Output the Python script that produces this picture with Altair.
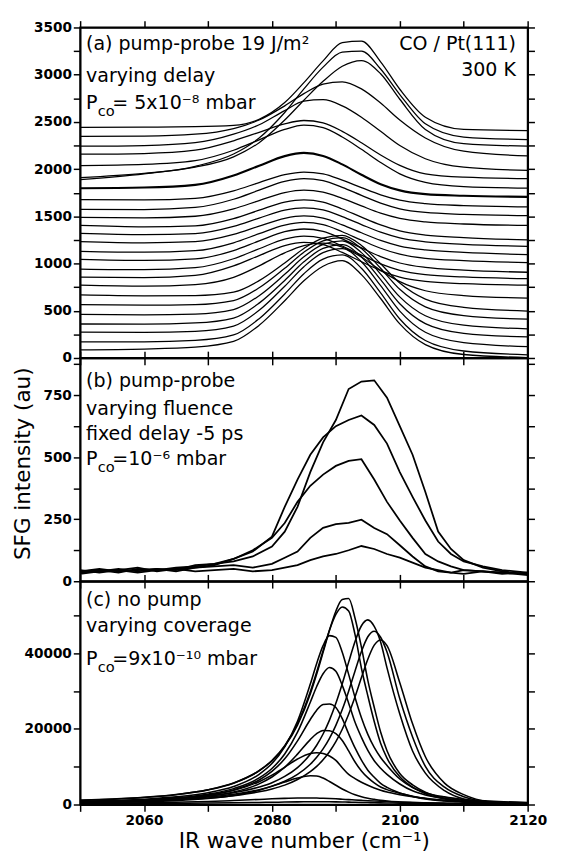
import altair as alt
import pandas as pd

FONT = "DejaVu Sans"

# ---------------- panel (a): pump-probe, varying delay ----------------
A_X = [2050, 2060, 2068, 2074, 2078, 2082, 2085, 2088, 2091, 2094, 2097, 2100, 2104, 2110, 2120]
a00 = [86, 94, 114, 175, 346, 606, 817, 971, 1030, 883, 630, 361, 142, 37, 5]
a01 = [171, 171, 186, 244, 416, 678, 893, 1047, 1091, 950, 689, 413, 185, 74, 34]
a02 = [274, 272, 283, 338, 505, 760, 967, 1116, 1159, 1020, 766, 496, 272, 162, 120]
a03 = [360, 358, 371, 423, 581, 821, 1018, 1160, 1200, 1070, 829, 575, 364, 261, 223]
a04 = [462, 457, 465, 513, 660, 886, 1071, 1203, 1240, 1116, 888, 647, 447, 347, 308]
a05 = [565, 559, 565, 608, 743, 950, 1120, 1241, 1275, 1160, 950, 727, 542, 449, 411]
a06 = [668, 659, 661, 697, 819, 1006, 1160, 1269, 1298, 1192, 998, 794, 624, 536, 497]
a07 = [771, 761, 778, 854, 976, 1114, 1191, 1216, 1175, 1070, 929, 808, 712, 661, 634]
a08 = [856, 852, 875, 975, 1084, 1190, 1224, 1200, 1118, 1019, 926, 857, 811, 787, 771]
a09 = [942, 935, 956, 1051, 1157, 1259, 1291, 1267, 1186, 1090, 997, 929, 883, 858, 840]
a10 = [1045, 1033, 1049, 1138, 1240, 1337, 1366, 1342, 1261, 1166, 1074, 1006, 959, 931, 908]
a11 = [1130, 1120, 1136, 1220, 1316, 1407, 1435, 1412, 1337, 1248, 1162, 1099, 1055, 1031, 1010]
a12 = [1233, 1220, 1232, 1308, 1396, 1479, 1504, 1481, 1410, 1326, 1245, 1185, 1144, 1118, 1095]
a13 = [1319, 1306, 1318, 1394, 1482, 1565, 1590, 1568, 1497, 1413, 1332, 1272, 1230, 1204, 1182]
a14 = [1404, 1389, 1399, 1476, 1565, 1651, 1675, 1651, 1578, 1491, 1409, 1346, 1302, 1275, 1250]
a15 = [1490, 1485, 1501, 1579, 1667, 1751, 1777, 1757, 1691, 1611, 1534, 1479, 1441, 1419, 1404]
a16 = [1575, 1572, 1594, 1681, 1777, 1870, 1899, 1878, 1807, 1722, 1640, 1580, 1541, 1521, 1507]
a17 = [1678, 1674, 1691, 1770, 1858, 1942, 1969, 1950, 1883, 1804, 1728, 1672, 1635, 1614, 1600]
a18 = [1798, 1805, 1833, 1932, 2036, 2138, 2172, 2140, 2050, 1940, 1840, 1775, 1735, 1718, 1706]
a19 = [2038, 2050, 2090, 2200, 2310, 2420, 2465, 2440, 2340, 2210, 2070, 1950, 1860, 1815, 1798]
a20 = [2158, 2165, 2200, 2300, 2390, 2480, 2515, 2490, 2400, 2280, 2150, 2040, 1950, 1915, 1900]
a21 = [2243, 2250, 2280, 2370, 2470, 2620, 2720, 2735, 2670, 2550, 2400, 2250, 2110, 2020, 1986]
a22 = [2346, 2350, 2370, 2430, 2520, 2670, 2800, 2900, 2925, 2850, 2700, 2520, 2330, 2190, 2140]
a23 = [1910, 1955, 2020, 2130, 2280, 2520, 2730, 2930, 3090, 3150, 3010, 2740, 2420, 2270, 2243]
a24 = [1890, 1950, 2030, 2160, 2330, 2600, 2850, 3080, 3240, 3250, 3060, 2790, 2480, 2340, 2312]
a25 = [2442, 2445, 2449, 2463, 2528, 2705, 2916, 3146, 3340, 3355, 3136, 2846, 2550, 2421, 2408]
A_THIN = [a00, a01, a02, a03, a04, a05, a06, a07, a08, a09, a10, a11, a12,
          a13, a14, a15, a16, a17, a19, a20, a21, a22, a23, a24, a25]
A_BOLD = [a18]

# ---------------- panel (b): pump-probe, varying fluence ----------------
B_X = [2050, 2053, 2056, 2059, 2062, 2065, 2068, 2071, 2074, 2077, 2080, 2082, 2084, 2086, 2088,
       2090, 2092, 2094, 2096, 2098, 2100, 2102, 2104, 2106, 2108, 2110, 2113, 2116, 2120]
b1 = [40, 45, 35, 50, 45, 55, 60, 70, 80, 100, 140, 200, 300, 440, 560,
      650, 775, 805, 810, 740, 625, 510, 360, 200, 130, 85, 55, 40, 28]
b2 = [35, 40, 50, 40, 50, 45, 65, 70, 90, 120, 180, 300, 410, 510, 580,
      625, 650, 668, 630, 555, 440, 340, 245, 160, 110, 80, 60, 45, 35]
b3 = [45, 35, 45, 55, 40, 50, 55, 65, 90, 125, 175, 235, 320, 385, 430,
      465, 485, 492, 410, 320, 245, 175, 110, 80, 60, 45, 40, 35, 30]
b4 = [40, 50, 40, 45, 50, 40, 55, 60, 65, 55, 70, 95, 120, 175, 215,
      230, 235, 248, 215, 190, 145, 100, 60, 40, 35, 45, 40, 30, 35]
b5 = [30, 40, 45, 35, 45, 50, 40, 45, 50, 40, 45, 55, 65, 85, 100,
      110, 125, 142, 130, 110, 95, 75, 55, 45, 35, 30, 40, 35, 25]
B_CURVES = [b1, b2, b3, b4, b5]

# ---------------- panel (c): no pump, varying coverage ----------------
C_X = [2050, 2055, 2060, 2065, 2070, 2074, 2078, 2080, 2082, 2084, 2086, 2087, 2088, 2089, 2090,
       2091, 2092, 2093, 2094, 2095, 2096, 2097, 2098, 2100, 2102, 2104, 2107, 2110, 2114, 2120]
c01 = [1120, 1430, 1900, 2650, 3920, 5690, 8920, 11540, 15370, 21000, 29210, 34460, 40200, 46060, 51090,
       54150, 54430, 49230, 41570, 32820, 25710, 19150, 14220, 8200, 5200, 3280, 1640, 770, 330, 110]
c02 = [1090, 1390, 1860, 2600, 3870, 5640, 8930, 11640, 15560, 21400, 29810, 35030, 40660, 46040, 50220,
       52200, 51160, 44890, 36020, 28710, 21920, 16180, 12270, 7310, 4590, 2870, 1460, 680, 310, 100]
c03 = [720, 910, 1180, 1590, 2260, 3130, 4630, 5760, 7420, 9760, 13270, 15670, 18640, 22300, 26740,
       31920, 37630, 43090, 47240, 48800, 47090, 42940, 36110, 23910, 14150, 8300, 3660, 1460, 540, 150]
c04 = [650, 810, 1040, 1400, 1970, 2690, 3920, 4860, 6140, 7970, 10630, 12460, 14700, 17500, 20930,
       25100, 29950, 35310, 40440, 44330, 45800, 44200, 40300, 27940, 17860, 10080, 4580, 2060, 640, 140]
c05 = [590, 740, 940, 1250, 1730, 2350, 3360, 4120, 5130, 6610, 8700, 10090, 11830, 13960, 16620,
       19880, 23840, 28450, 33540, 38410, 42110, 43500, 41980, 32190, 21320, 12620, 5660, 2610, 740, 130]
c06 = [800, 1040, 1410, 2020, 3120, 4760, 7990, 10820, 15220, 22000, 31830, 37270, 41980, 44630, 44180,
       40230, 34390, 28290, 22940, 18540, 15090, 12440, 10330, 6740, 4490, 3140, 2020, 1350, 900, 540]
c07 = [700, 910, 1240, 1770, 2740, 4200, 7020, 9520, 13360, 19110, 27040, 31200, 34570, 36200, 35190,
       31490, 26790, 21720, 17740, 14300, 11580, 9590, 7960, 5430, 3620, 2530, 1630, 1090, 720, 430]
c08 = [630, 825, 1130, 1620, 2520, 3860, 6490, 8760, 12070, 16820, 22480, 24940, 26430, 26570, 25630,
       22700, 18690, 14950, 11750, 9080, 7210, 5610, 4540, 3070, 2140, 1470, 940, 670, 430, 270]
c09 = [550, 715, 970, 1400, 2170, 3290, 5460, 7270, 9850, 13320, 17160, 18720, 19580, 19500, 18720,
       16940, 14180, 11230, 8870, 7090, 5710, 4630, 3940, 2960, 2170, 1580, 1080, 790, 490, 300]
c10 = [610, 810, 1110, 1600, 2480, 3770, 6040, 7750, 9850, 12020, 13500, 13700, 13490, 12810, 11650,
       9730, 7950, 6850, 5890, 5070, 4380, 3770, 3290, 2600, 2060, 1640, 1100, 750, 480, 270]
c11 = [390, 520, 710, 1030, 1600, 2400, 3800, 4800, 5940, 6990, 7580, 7520, 6990, 6080, 5090,
       4100, 3270, 2580, 2050, 1670, 1370, 1100, 910, 680, 530, 420, 300, 230, 150, 90]
c12 = [300, 380, 450, 600, 800, 1050, 1350, 1500, 1620, 1700, 1720, 1700, 1650, 1580, 1500,
       1400, 1300, 1200, 1100, 1000, 920, 850, 780, 650, 550, 450, 350, 280, 200, 120]
c13 = [200, 230, 260, 300, 380, 450, 550, 600, 650, 700, 720, 730, 730, 720, 700,
       670, 630, 590, 550, 510, 470, 440, 410, 360, 320, 280, 230, 190, 150, 100]
C_CURVES = [c01, c02, c03, c04, c05, c06, c07, c08, c09, c10, c11, c12, c13]

X_TICKS = list(range(2050, 2121, 10))


def long_form(xs, curves, prefix):
    rows = []
    for i, ys in enumerate(curves):
        for x, y in zip(xs, ys):
            rows.append({"x": x, "y": y, "curve": f"{prefix}{i:02d}"})
    return pd.DataFrame(rows)


def txt(s, px, py, size=19.5, align="left"):
    return alt.Chart(pd.DataFrame({"t": [s]})).mark_text(
        font=FONT, fontSize=size, align=align, baseline="alphabetic", color="black"
    ).encode(x=alt.value(px), y=alt.value(py), text="t:N")


def panel(df, height, ymax, ystep, lstep, sw, interp, texts, bold_df=None,
          xtitle=None, ytitle=None):
    xs = alt.Scale(domain=[2050, 2120], nice=False, zero=False)
    ys = alt.Scale(domain=[0, ymax], nice=False, zero=False)
    yticks = list(range(0, ymax + 1, ystep))
    xargs = dict(values=X_TICKS, format="d", labelFlush=False, labelOverlap=False,
                 labelExpr="datum.value % 20 === 0 ? datum.label : ''")
    if xtitle:
        xargs.update(title=xtitle, titlePadding=4)
    else:
        xargs.update(labels=False, title=None)
    yargs = dict(values=yticks, format="d", labelFlush=False, labelOverlap=False,
                 labelExpr=f"datum.value % {lstep} === 0 ? datum.label : ''")
    if ytitle:
        yargs.update(title=ytitle, titleX=-59, titleY=108, titleAngle=270,
                     titleAlign="center", titleBaseline="middle")
    else:
        yargs.update(title=None)
    lines = alt.Chart(df).mark_line(color="black", strokeWidth=sw, interpolate=interp).encode(
        x=alt.X("x:Q", scale=xs, axis=alt.Axis(**xargs)),
        y=alt.Y("y:Q", scale=ys, axis=alt.Axis(**yargs)),
        detail="curve:N",
    )
    layers = [lines]
    if bold_df is not None:
        layers.append(
            alt.Chart(bold_df).mark_line(color="black", strokeWidth=2.2, interpolate=interp).encode(
                x=alt.X("x:Q", scale=xs, axis=None),
                y=alt.Y("y:Q", scale=ys, axis=None),
                detail="curve:N",
            )
        )
    mirror = alt.Chart(df).mark_line(strokeOpacity=0).encode(
        x=alt.X("x:Q", scale=xs, axis=alt.Axis(orient="top", values=X_TICKS, labels=False, title=None)),
        y=alt.Y("y:Q", scale=ys, axis=alt.Axis(orient="right", values=yticks, labels=False, title=None)),
        detail="curve:N",
    )
    layers.append(mirror)
    layers.extend(texts)
    return alt.layer(*layers).resolve_axis(x="independent", y="independent").properties(
        width=459, height=height
    )


df_a = long_form(A_X, A_THIN, "a")
df_a_bold = long_form(A_X, A_BOLD, "t")
df_b = long_form(B_X, B_CURVES, "b")
df_c = long_form(C_X, C_CURVES, "c")

pa = panel(
    df_a, 339, 3500, 250, 500, 1.3, "monotone",
    [
        txt("(a) pump-probe 19 J/m²", 6, 23),
        txt("varying delay", 6, 56),
        txt("P", 6, 84), txt("co", 18, 91, 15), txt("= 5x10⁻⁸ mbar", 33, 84),
        txt("CO / Pt(111)", 447, 23, align="right"),
        txt("300 K", 447, 50, align="right"),
    ],
    bold_df=df_a_bold,
)

pb = panel(
    df_b, 229, 900, 125, 250, 1.8, "linear",
    [
        txt("(b) pump-probe", 6, 30),
        txt("varying fluence", 6, 58),
        txt("fixed delay -5 ps", 6, 84),
        txt("P", 6, 110), txt("co", 18, 117, 15), txt("=10⁻⁶ mbar", 33, 110),
    ],
    ytitle="SFG intensity (au)",
)

pc = panel(
    df_c, 229, 59000, 10000, 20000, 1.6, "monotone",
    [
        txt("(c) no pump", 6, 25),
        txt("varying coverage", 6, 52),
        txt("P", 6, 86), txt("co", 18, 93, 15), txt("=9x10⁻¹⁰ mbar", 33, 86),
    ],
    xtitle="IR wave number (cm⁻¹)",
)

chart = alt.vconcat(pa, pb, pc, spacing=0, bounds="flush").properties(
    padding={"left": 3, "top": 0, "right": 5, "bottom": 0}
).configure_axis(
    labelFont=FONT, labelFontSize=14, labelFontWeight="bold", labelColor="black",
    labelPadding=2, tickColor="black", tickSize=7, tickWidth=1.5,
    domainColor="black", domainWidth=1.8, grid=False,
    titleFont=FONT, titleFontSize=22, titleFontWeight="normal", titleColor="black",
).configure_view(stroke="black", strokeWidth=1.8)

chart.save("out.html", embed_options={"renderer": "svg", "actions": False})
